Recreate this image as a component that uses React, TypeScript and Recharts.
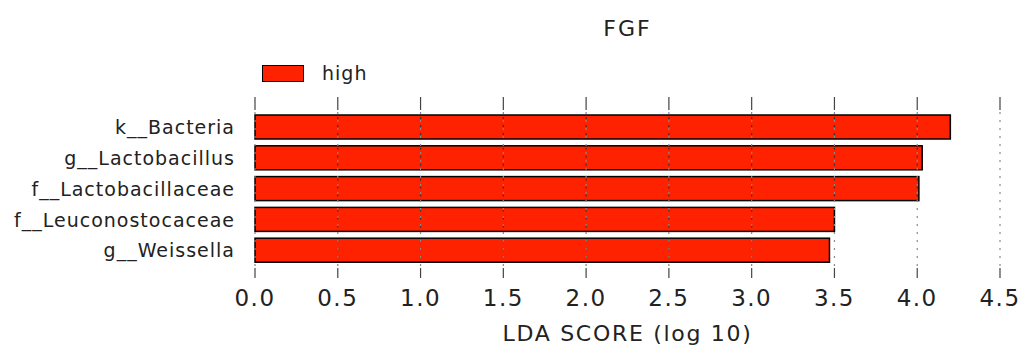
import { BarChart, Bar, XAxis, YAxis, ReferenceLine } from 'recharts';

const taxa = ['k__Bacteria', 'g__Lactobacillus', 'f__Lactobacillaceae', 'f__Leuconostocaceae', 'g__Weissella'];
const ldaScores = [4.2, 4.03, 4.01, 3.5, 3.47];
const xTicks = [0, 0.5, 1, 1.5, 2, 2.5, 3, 3.5, 4, 4.5];

const FONT = '"DejaVu Sans", sans-serif';
const RED = '#ff2200';

// bottom tick: short mark + label, from the axis' own tick position
function BottomTick(props: any) {
  const { x, y, payload } = props;
  return (
    <g>
      <line x1={x} x2={x} y1={y + 2} y2={y + 12} stroke="#444" strokeWidth={1.2} />
      <text x={x} y={y + 40} textAnchor="middle" fontSize={23} fill="#222" fontFamily={FONT} letterSpacing={1.5}>
        {Number(payload.value).toFixed(1)}
      </text>
    </g>
  );
}

function TopTick(props: any) {
  const { x, y } = props;
  return <line x1={x} x2={x} y1={y - 15} y2={y - 2} stroke="#444" strokeWidth={1.2} />;
}

// bar rect, with the dotted grid repeated on top of it (grid sits above bars in the original)
function GridBar(props: any) {
  const { x, y, width, height, payload } = props;
  const perUnit = width / payload.score;
  return (
    <g>
      <rect x={x} y={y} width={width} height={height} fill={RED} stroke="#000" strokeWidth={1.5} />
      {xTicks
        .filter((t) => t > 0 && t < payload.score)
        .map((t) => (
          <line key={t} x1={x + t * perUnit} x2={x + t * perUnit} y1={y + 2} y2={y + height - 1} stroke="#333" strokeWidth={1.2} strokeDasharray="2 6" />
        ))}
    </g>
  );
}

const margin = { top: 100, right: 20, bottom: 0, left: 0 };

export default function App() {
  const data = taxa.map((name, i) => ({ name, score: ldaScores[i] }));

  return (
    <div style={{ position: 'absolute', left: 0, top: 0, width: 1020, height: 345, background: '#fff' }}>
      <div style={{ position: 'absolute', left: 0, width: 1020, top: 16, paddingLeft: 255, boxSizing: 'border-box', paddingRight: 20, textAlign: 'center', fontFamily: FONT, fontSize: 22, letterSpacing: 2, color: '#222' }}>
        FGF
      </div>
      <div style={{ position: 'absolute', left: 262, top: 62, display: 'flex', alignItems: 'center', fontFamily: FONT, fontSize: 19, letterSpacing: 1, color: '#222' }}>
        <span style={{ display: 'inline-block', width: 40, height: 15, background: RED, border: '1.5px solid #000', marginRight: 18 }} />
        <span>high</span>
      </div>
      <div style={{ position: 'absolute', left: 0, top: 0, zIndex: 1 }}>
        <BarChart width={1020} height={345} data={data} layout="vertical" margin={{ ...margin, top: 112 }} barSize={24}>
          <XAxis
            type="number"
            domain={[0, 4.5]}
            ticks={xTicks}
            axisLine={false}
            tickLine={false}
            tickSize={0}
            tickMargin={0}
            tick={<BottomTick />}
            height={79}
            label={{ value: 'LDA SCORE (log 10)', position: 'insideBottom', offset: 4, style: { fontSize: 22, fill: '#222', fontFamily: FONT, letterSpacing: 1.7 } }}
          />
          <YAxis
            type="category"
            dataKey="name"
            width={255}
            axisLine={false}
            tickLine={false}
            tickSize={0}
            tickMargin={20}
            tick={{ fontSize: 19, fill: '#222', fontFamily: FONT, letterSpacing: 1 }}
          />
          {xTicks.map((t) => (
            <ReferenceLine key={t} x={t} stroke="#888" strokeWidth={1.2} strokeDasharray="2 6" />
          ))}
          <Bar dataKey="score" name="high" fill={RED} stroke="#000" strokeWidth={1.5} shape={<GridBar />} isAnimationActive={false} />
        </BarChart>
      </div>
      {/* top tick marks, same plot box */}
      <div style={{ position: 'absolute', left: 0, top: 0, zIndex: 2, pointerEvents: 'none' }}>
        <BarChart width={1020} height={345} data={data} layout="vertical" margin={{ ...margin, bottom: 79 }} barSize={24}>
          <XAxis
            xAxisId="top"
            orientation="top"
            type="number"
            domain={[0, 4.5]}
            ticks={xTicks}
            height={12}
            axisLine={false}
            tickLine={false}
            tickSize={0}
            tickMargin={0}
            tick={<TopTick />}
          />
          <YAxis type="category" dataKey="name" width={255} tick={false} axisLine={false} tickLine={false} />
          <Bar xAxisId="top" dataKey="score" fill="transparent" stroke="transparent" isAnimationActive={false} />
        </BarChart>
      </div>
    </div>
  );
}
